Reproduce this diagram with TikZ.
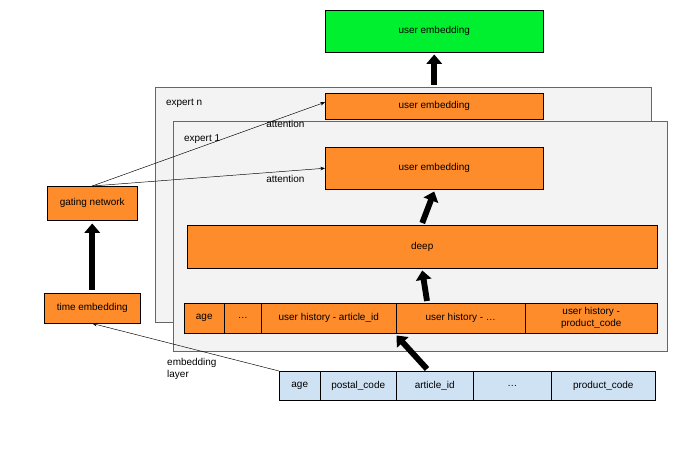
\documentclass[tikz,border=0pt]{standalone}
\usepackage{fontspec}
\setmainfont{Liberation Sans}
\usetikzlibrary{arrows.meta,positioning,calc}
\definecolor{OrangeBox}{HTML}{FF8C2A}
\definecolor{GreenBox}{HTML}{00F030}
\definecolor{BlueBox}{HTML}{CFE2F3}
\definecolor{PanelBackground}{HTML}{F3F3F3}
\tikzstyle{BoxNode} =[draw,anchor=north west,inner sep=0pt,align=center,font=\fontsize{8.5}{10}\selectfont]
\tikzstyle{Panel} =[draw=black!60,fill=PanelBackground]
\tikzstyle{BigArrow} =[line width=5pt,-{Triangle[width=13pt,length=8pt]}]
\tikzstyle{ThinArrow} =[thin,-{Stealth[length=4pt]}]
\tikzstyle{LabelText} =[font=\fontsize{8.5}{10}\selectfont,align=left]
\begin{document}
\begin{tikzpicture}[x=0.03cm,y=-0.03cm]
    \useasboundingbox (0,0) rectangle (696,451);
    % top output
    \node[BoxNode,fill=GreenBox,minimum width=218*0.03cm,minimum height=42*0.03cm](Final-Embedding) at (325,10){user embedding};

    % expert n
    \draw[Panel] (155,87) rectangle (651,322);
    \node[LabelText,anchor=west](Expert-N-Label) at (162,103){expert n};
    \node[BoxNode,fill=OrangeBox,minimum width=218*0.03cm,minimum height=26*0.03cm](Expert-N-Embedding) at (325,93){user embedding};

    % expert 1
    \draw[Panel] (173,121) rectangle (667,351);
    \node[LabelText,anchor=west](Expert-1-Label) at (180,139){expert 1};
    \node[BoxNode,fill=OrangeBox,minimum width=218*0.03cm,minimum height=42*0.03cm](Expert-1-Embedding) at (325,147){user embedding};
    \node[BoxNode,fill=OrangeBox,minimum width=470*0.03cm,minimum height=43*0.03cm](Deep) at (187,225){deep};

    % feature row
    \foreach \xa/\xb/\txt [count=\i] in {184/224/age,224/261/\dots,261/396/user history - article\_id,396/525/user history - \dots,525/657/{user history -\\product\_code}}
        \node[BoxNode,fill=OrangeBox,minimum width=(\xb-\xa)*0.03cm,minimum height=30*0.03cm](Feature-\i) at (\xa,303){\txt};

    % input row
    \foreach \xa/\xb/\txt [count=\i] in {279/320/age,320/396/postal\_code,396/473/article\_id,473/551/\dots,551/655/product\_code}
        \node[BoxNode,fill=BlueBox,minimum width=(\xb-\xa)*0.03cm,minimum height=29*0.03cm](Input-\i) at (\xa,371){\txt};

    % gating
    \node[BoxNode,fill=OrangeBox,minimum width=96*0.03cm,minimum height=30*0.03cm](Time-Embedding) at (44,293){time embedding};
    \node[BoxNode,fill=OrangeBox,minimum width=90*0.03cm,minimum height=34*0.03cm](Gating-Network) at (47,186){gating network};

    \coordinate (Feature-Top) at (427,301);
    \coordinate (Input-Top) at (427,369);
    \draw[BigArrow] (Input-Top) -- ($(Feature-3.south east)+(0,2)$);
    \draw[BigArrow] (Feature-Top) -- ($(Deep.south)+(0,2)$);
    \draw[BigArrow] ($(Deep.north)+(0,-2)$) -- ($(Expert-1-Embedding.south)+(0,2)$);
    \draw[BigArrow] ($(Expert-N-Embedding.north)+(0,-8)$) -- ($(Final-Embedding.south)+(0,2)$);
    \draw[BigArrow] ($(Time-Embedding.north)+(0,-3)$) -- ($(Gating-Network.south)+(0,3)$);

    \draw[ThinArrow] (Gating-Network.north) -- node[LabelText,pos=0.83,below]{attention} ($(Expert-N-Embedding.west)+(0,-4)$);
    \draw[ThinArrow] (Gating-Network.north) -- node[LabelText,pos=0.83,below]{attention} (Expert-1-Embedding.west);
    \draw[ThinArrow] (Input-1.north west) -- node[LabelText,pos=0.35,below left=0pt and -6pt]{embedding\\layer} (Time-Embedding.south);
\end{tikzpicture}
\end{document}
